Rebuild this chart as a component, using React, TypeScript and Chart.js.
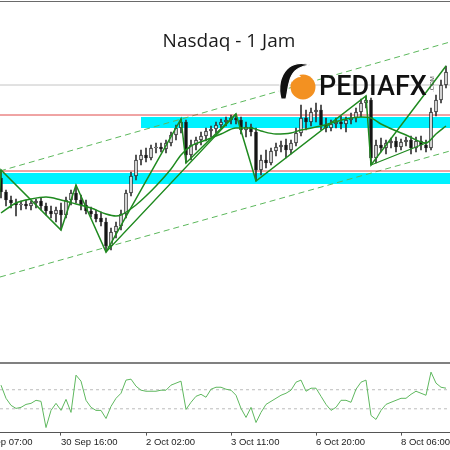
import React, { useEffect, useRef } from "react";
import { Chart, registerables } from "chart.js";

Chart.register(...registerables);

// ---- axis range (bar index units, 2h bars) ----
const X_MIN = -0.2;
const X_MAX = 89.8;
const PRICE_MIN = 24000;
const PRICE_MAX = 25448;

// ---- x-axis tick labels ----
const tickIndex = [-5, 12, 29, 46, 63, 80];
const tickLabels = ["29 Sep 07:00", "30 Sep 16:00", "2 Oct 02:00", "3 Oct 11:00", "6 Oct 20:00", "8 Oct 06:00"];

// ---- candles ----
const opens = [
  24736, 24680, 24648, 24636, 24628, 24632, 24624, 24636, 24644, 24624,
  24604, 24592, 24608, 24588, 24648, 24676, 24648, 24628, 24604, 24592,
  24576, 24560, 24464, 24520, 24544, 24592, 24676, 24744, 24808, 24828,
  24816, 24856, 24860, 24852, 24876, 24908, 24936, 24960, 24828, 24868,
  24888, 24904, 24924, 24932, 24948, 24960, 24968, 24976, 24968, 24928,
  24940, 24920, 24768, 24808, 24796, 24844, 24860, 24868, 24848, 24876,
  24916, 24976, 24960, 25000, 25008, 24948, 24936, 24952, 24960, 24952,
  24968, 24976, 25000, 25036, 25048, 24816, 24868, 24856, 24876, 24884,
  24860, 24880, 24888, 24856, 24884, 24868, 24856, 25000, 25048, 25108,
];
const highs = [
  24768, 24688, 24664, 24652, 24644, 24648, 24644, 24652, 24656, 24636,
  24624, 24620, 24636, 24660, 24688, 24708, 24668, 24648, 24620, 24608,
  24600, 24576, 24536, 24560, 24608, 24688, 24760, 24828, 24848, 24856,
  24868, 24876, 24876, 24888, 24920, 24948, 24972, 24968, 24888, 24900,
  24920, 24936, 24944, 24960, 24972, 24980, 24988, 24992, 24980, 24960,
  24952, 24936, 24828, 24848, 24856, 24876, 24884, 24892, 24888, 24936,
  25028, 25008, 25016, 25036, 25028, 24976, 24968, 24976, 24984, 24980,
  24996, 25016, 25052, 25064, 25056, 24888, 24896, 24888, 24896, 24900,
  24892, 24900, 24904, 24900, 24904, 24888, 25016, 25068, 25128, 25184,
];
const lows = [
  24656, 24624, 24616, 24584, 24608, 24612, 24608, 24616, 24608, 24588,
  24576, 24560, 24528, 24576, 24628, 24636, 24608, 24592, 24580, 24560,
  24544, 24440, 24448, 24496, 24528, 24576, 24664, 24728, 24788, 24800,
  24808, 24836, 24840, 24836, 24864, 24888, 24916, 24796, 24808, 24848,
  24868, 24884, 24900, 24916, 24936, 24944, 24952, 24952, 24912, 24900,
  24904, 24724, 24748, 24776, 24788, 24824, 24840, 24816, 24832, 24864,
  24904, 24928, 24944, 24960, 24928, 24920, 24924, 24936, 24932, 24920,
  24952, 24960, 24980, 25016, 24788, 24796, 24840, 24832, 24856, 24840,
  24848, 24864, 24832, 24840, 24848, 24840, 24848, 24984, 25036, 25096,
];
const closes = [
  24680, 24648, 24636, 24628, 24632, 24624, 24636, 24644, 24624, 24604,
  24592, 24608, 24588, 24648, 24676, 24648, 24628, 24604, 24592, 24572,
  24560, 24464, 24520, 24544, 24592, 24676, 24744, 24808, 24828, 24816,
  24856, 24860, 24852, 24876, 24908, 24936, 24960, 24828, 24868, 24888,
  24904, 24924, 24932, 24948, 24960, 24968, 24976, 24968, 24928, 24940,
  24920, 24768, 24808, 24796, 24844, 24860, 24868, 24848, 24876, 24916,
  24976, 24960, 25000, 25008, 24948, 24936, 24952, 24960, 24952, 24968,
  24976, 25000, 25036, 25048, 24816, 24868, 24856, 24876, 24884, 24860,
  24880, 24888, 24856, 24884, 24868, 24856, 25000, 25048, 25108, 25160,
];

// ---- moving average (read at bars) ----
const maIndex = [0, 3, 6, 9, 12, 15, 18, 21, 23, 24, 27, 29, 31, 34, 36, 38, 41, 44, 47, 50, 52, 55, 58, 60, 64, 69, 72, 74, 76, 81, 85, 87, 89];
const maValues = [24596, 24636, 24652, 24660, 24648, 24632, 24616, 24592, 24584, 24588, 24628, 24664, 24704, 24772, 24828, 24864, 24888, 24912, 24936, 24936, 24924, 24912, 24916, 24928, 24944, 24972, 24980, 24976, 24952, 24908, 24876, 24912, 24944];

// ---- zigzag pivots ----
const zigzagIndex = [-1, 0, 12, 15, 21, 36, 37, 47, 51, 73, 74, 89];
const zigzagPrices = [24448, 24768, 24528, 24708, 24440, 24972, 24796, 24992, 24724, 25064, 24788, 25184];

// ---- secondary swing lines ----
const swingIndex = [21, 47, 60, 74, 85];
const swingPrices = [24440, 24992, null, 24788, 24876];

// ---- levels / zones / channel ----
const grayLevel = 25108;
const redLevels = [24988, 24764];
const zoneTops = [24980, 24756];
const zoneBottoms = [24936, 24712];
const zoneStarts = [28, X_MIN];
const channelUpper = [24764, 25280];
const channelLower = [24340, 24844];

// ---- oscillator (CCI-like) ----
const oscValues = [
  148, 10, -64, -96, -85, -54, -43, -11, -22, -297,
  -117, -43, -117, -1, -138, 253, 190, -11, -85, -117,
  -117, -202, -75, 10, 63, 201, 211, 137, 95, 84,
  84, 84, 95, 95, 148, 169, 190, -107, -32, 31,
  52, 21, 105, 126, 126, 105, 95, 42, -96, -191,
  -85, -244, -138, -54, -22, 10, 42, 63, 95, 179,
  201, 84, 116, 116, 31, -54, -117, -85, -11, -11,
  -32, 105, 179, 201, -170, -212, -117, -54, -32, -11,
  10, 10, 52, 84, 63, 42, 285, 169, 126, 116,
];
const oscLevels = [100, -100];

const hLine = (price: number, from: number = X_MIN) => [
  { x: from, y: price },
  { x: X_MAX, y: price },
];

export default function App() {
  const mainRef = useRef<HTMLCanvasElement>(null);
  const oscRef = useRef<HTMLCanvasElement>(null);

  useEffect(() => {
    const darkGreen = "#1f8a1f";
    const lightGreen = "#5cb85c";

    const main = new Chart(mainRef.current as HTMLCanvasElement, {
      type: "bar",
      data: {
        datasets: [
          {
            type: "line",
            data: zigzagIndex.map((x, k) => ({ x, y: zigzagPrices[k] })),
            borderColor: darkGreen,
            borderWidth: 1.5,
            pointRadius: 0,
            tension: 0,
            fill: false,
          } as any,
          {
            type: "line",
            data: swingIndex.map((x, k) => ({ x, y: swingPrices[k] })),
            borderColor: darkGreen,
            borderWidth: 1.3,
            pointRadius: 0,
            tension: 0,
            spanGaps: false,
            fill: false,
          } as any,
          {
            type: "line",
            data: maIndex.map((x, k) => ({ x, y: maValues[k] })),
            borderColor: darkGreen,
            borderWidth: 1.5,
            pointRadius: 0,
            cubicInterpolationMode: "monotone",
            fill: false,
          } as any,
          {
            type: "bar",
            data: opens.map((o, i) => ({ x: i, y: [o, closes[i]] })),
            backgroundColor: opens.map((o, i) => (closes[i] >= o ? "#f4f4f4" : "#111111")),
            borderColor: "#222222",
            borderWidth: 1,
            borderSkipped: false,
            barThickness: 3,
            minBarLength: 1,
            grouped: false,
          } as any,
          {
            type: "bar",
            data: lows.map((l, i) => ({ x: i, y: [l, highs[i]] })),
            backgroundColor: "#333333",
            borderWidth: 0,
            barThickness: 1,
            grouped: false,
          } as any,
          ...redLevels.map((p) => ({
            type: "line",
            data: hLine(p),
            borderColor: "#e04848",
            borderWidth: 1,
            pointRadius: 0,
            fill: false,
          })),
          {
            type: "line",
            data: [
              { x: X_MIN, y: channelUpper[0] },
              { x: X_MAX, y: channelUpper[1] },
            ],
            borderColor: lightGreen,
            borderWidth: 1,
            borderDash: [6, 4],
            pointRadius: 0,
            fill: false,
          } as any,
          {
            type: "line",
            data: [
              { x: X_MIN, y: channelLower[0] },
              { x: X_MAX, y: channelLower[1] },
            ],
            borderColor: lightGreen,
            borderWidth: 1,
            borderDash: [6, 4],
            pointRadius: 0,
            fill: false,
          } as any,
          {
            type: "line",
            data: hLine(grayLevel),
            borderColor: "#c4c4c4",
            borderWidth: 1,
            pointRadius: 0,
            fill: false,
          } as any,
          ...zoneTops.map((top, k) => ({
            type: "line",
            data: hLine(top, zoneStarts[k]),
            borderWidth: 0,
            borderColor: "rgba(0,0,0,0)",
            backgroundColor: "#00f2ff",
            pointRadius: 0,
            fill: { value: zoneBottoms[k] },
          })),
        ] as any,
      },
      options: {
        responsive: false,
        maintainAspectRatio: false,
        animation: false,
        events: [],
        layout: { padding: 0 },
        plugins: { legend: { display: false }, tooltip: { enabled: false } },
        scales: {
          x: { type: "linear", min: X_MIN, max: X_MAX, display: false, offset: false, bounds: "data" },
          y: { type: "linear", min: PRICE_MIN, max: PRICE_MAX, display: false },
        },
      } as any,
    });

    const osc = new Chart(oscRef.current as HTMLCanvasElement, {
      type: "line",
      data: {
        datasets: [
          {
            data: oscValues.map((v, i) => ({ x: i, y: v })),
            borderColor: "#5fb85f",
            borderWidth: 1,
            pointRadius: 0,
            tension: 0,
            fill: false,
          },
          ...oscLevels.map((lv) => ({
            data: hLine(lv),
            borderColor: "#bdbdbd",
            borderWidth: 1,
            borderDash: [3, 3],
            pointRadius: 0,
            fill: false,
          })),
        ] as any,
      },
      options: {
        responsive: false,
        maintainAspectRatio: false,
        animation: false,
        events: [],
        layout: { padding: 0 },
        plugins: { legend: { display: false }, tooltip: { enabled: false } },
        scales: {
          x: {
            type: "linear",
            min: X_MIN,
            max: X_MAX,
            offset: false,
            bounds: "data",
            afterBuildTicks: (s: any) => {
              s.ticks = tickIndex.map((v) => ({ value: v }));
            },
            afterFit: (s: any) => {
              s.paddingLeft = 0;
              s.paddingRight = 0;
            },
            ticks: {
              autoSkip: false,
              maxRotation: 0,
              minRotation: 0,
              align: "start",
              padding: 1,
              color: "#222",
              font: { family: '"Liberation Sans", Arial, sans-serif', size: 9.5 },
              callback: (_v: any, i: number) => tickLabels[i] ?? "",
            },
            grid: { drawOnChartArea: false, drawTicks: true, tickLength: 3, color: "#555" },
            border: { display: true, color: "#555", width: 1 },
          },
          y: { type: "linear", min: -350, max: 370, display: false },
        },
      } as any,
    });

    return () => {
      main.destroy();
      osc.destroy();
    };
  }, []);

  return (
    <div style={{ position: "fixed", left: 0, top: 0, width: 450, height: 450, background: "#fff", overflow: "hidden" }}>
      <canvas ref={mainRef} width={450} height={362} style={{ position: "absolute", left: 0, top: 0 }} />
      <canvas ref={oscRef} width={450} height={85} style={{ position: "absolute", left: 0, top: 364 }} />
      <div style={{ position: "absolute", left: 0, top: 1, width: 450, height: 1, background: "#6a6a6a" }} />
      <div style={{ position: "absolute", left: 0, top: 362, width: 450, height: 2, background: "#808080" }} />
      <div
        style={{
          position: "absolute",
          left: 4,
          top: 30,
          width: 450,
          textAlign: "center",
          fontFamily: '"Open Sans", sans-serif',
          fontSize: 19,
          lineHeight: "20px",
          color: "#1a1a1a",
        }}
      >
        Nasdaq - 1 Jam
      </div>
      <svg width={50} height={50} style={{ position: "absolute", left: 270, top: 58 }}>
        <circle cx={33} cy={29} r={12.5} fill="#f39121" />
        <path d="M11,41 C8,30 10,18 17,11 C23,5 32,4 40,7 C32,8 25,11 22,17 C18,24 18,33 16,41 Z" fill="#111" stroke="#fff" strokeWidth={1.2} />
        <path d="M22,17 C26,15 29,16 31,19 C27,19 24,21 22,24 Z" fill="#fff" />
      </svg>
      <div
        style={{
          position: "absolute",
          left: 319,
          top: 73,
          fontFamily: "Roboto, sans-serif",
          fontWeight: 500,
          fontSize: 27,
          lineHeight: "27px",
          color: "#111",
          letterSpacing: 0,
        }}
      >
        PEDIAFX
      </div>
      <div
        style={{
          position: "absolute",
          left: 424,
          top: 81,
          fontFamily: '"Liberation Sans", Arial, sans-serif',
          fontSize: 6,
          lineHeight: "6px",
          color: "#444",
          transform: "rotate(-90deg)",
          transformOrigin: "center",
        }}
      >
        .COM
      </div>
    </div>
  );
}
